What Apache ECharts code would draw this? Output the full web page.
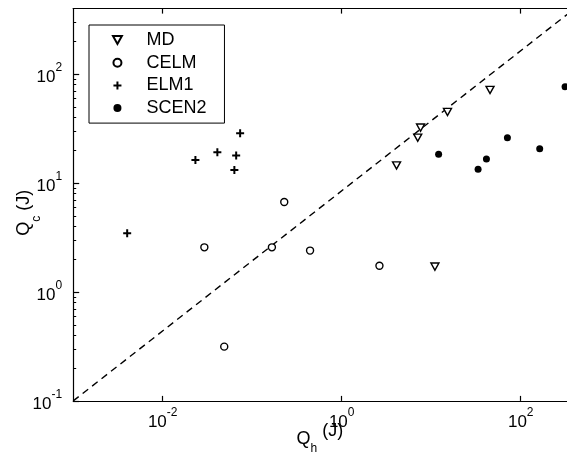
<!DOCTYPE html>
<html><head><meta charset="utf-8">
<script src="https://cdn.jsdelivr.net/npm/echarts@6/dist/echarts.min.js"></script>
<style>html,body{margin:0;padding:0;background:#fff}#c{width:567px;height:455px}</style>
</head><body><div id="c"></div>
<script>
// ---- data ----
const mdX = [4.1, 7.07, 7.6, 15.2, 45.4, 11.0];
const mdY = [14.5, 26.1, 32.3, 45, 71.6, 1.71];
const celmX = [0.0292, 0.0487, 0.166, 0.228, 0.443, 2.64];
const celmY = [2.57, 0.315, 2.57, 6.7, 2.40, 1.74];
const elm1X = [0.00401, 0.0232, 0.0408, 0.0632, 0.0662, 0.0733];
const elm1Y = [3.46, 16.3, 19.2, 13.2, 17.9, 28.7];
const scen2X = [12.1, 33.4, 41.4, 71, 163, 313];
const scen2Y = [18.4, 13.4, 16.6, 26.1, 20.7, 76.8];
const diagX = [0.001, 400];
const diagY = [0.1, 400];
const seriesNames = ['MD', 'CELM', 'ELM1', 'SCEN2'];
const xTickValues = [0.01, 1, 100];
const yTickValues = [0.1, 1, 10, 100];
const yMinorValues = [0.2, 0.3, 0.4, 0.5, 0.6, 0.7, 0.8, 0.9, 2, 3, 4, 5, 6, 7, 8, 9, 20, 30, 40, 50, 60, 70, 80, 90, 200, 300];

const FONT = '"Liberation Sans", Arial, Helvetica, sans-serif';
const pairs = (xs, ys) => xs.map((x, i) => [x, ys[i]]);
const powLabel = v => {
  const e = Math.round(Math.log10(v));
  return '{b|10}{s|' + (e < 0 ? '-' + (-e) : e) + '}';
};
const labelRich = {
  b: {fontSize: 17, fontFamily: FONT, color: '#000', lineHeight: 24, verticalAlign: 'bottom'},
  s: {fontSize: 12, fontFamily: FONT, color: '#000', lineHeight: 24, verticalAlign: 'top'}
};
const tickStyle = {color: '#000', width: 1.2};

const chart = echarts.init(document.getElementById('c'), null, {renderer: 'canvas'});
chart.setOption({
  animation: false,
  backgroundColor: '#fff',
  grid: {left: 73.2, right: -7.6, top: 8.6, bottom: 54.1, outerBoundsMode: 'none', containLabel: false},
  legend: {
    data: seriesNames,
    orient: 'vertical',
    left: 89, top: 25,
    padding: [6, 18, 6, 23],
    itemWidth: 48, itemHeight: 8, itemGap: 4.7,
    borderColor: '#000', borderWidth: 1,
    backgroundColor: '#fff',
    selectedMode: false,
    textStyle: {fontSize: 18, fontFamily: FONT, color: '#000'}
  },
  xAxis: [{
    type: 'log', logBase: 10, min: 0.001, max: 400, position: 'bottom',
    axisLine: {show: true, lineStyle: {color: '#000', width: 1.2}},
    axisTick: {show: true, inside: true, length: 5, customValues: xTickValues, lineStyle: tickStyle},
    splitLine: {show: false},
    axisLabel: {show: true, customValues: xTickValues, margin: 6, formatter: powLabel, rich: labelRich},
    name: '{q|Q}{h|h}{j| (J)}',
    nameLocation: 'middle', nameGap: 21, nameMoveOverlap: false,
    nameTextStyle: {
      padding: [0, 8, 0, 0],
      rich: {
        q: {fontSize: 18, fontFamily: FONT, color: '#000', verticalAlign: 'top', padding: [8, 0, 0, 0]},
        h: {fontSize: 12, fontFamily: FONT, color: '#000', verticalAlign: 'bottom', lineHeight: 33},
        j: {fontSize: 18, fontFamily: FONT, color: '#000', verticalAlign: 'top'}
      }
    }
  }, {
    type: 'log', logBase: 10, min: 0.001, max: 400, position: 'top',
    axisLine: {show: true, lineStyle: {color: '#000', width: 1.2}},
    axisTick: {show: true, inside: true, length: 5, customValues: xTickValues, lineStyle: tickStyle},
    axisLabel: {show: false},
    splitLine: {show: false}
  }],
  yAxis: [{
    type: 'log', logBase: 10, min: 0.1, max: 400, position: 'left',
    axisLine: {show: true, lineStyle: {color: '#000', width: 1.2}},
    axisTick: {show: true, inside: true, length: 6, customValues: yTickValues, lineStyle: tickStyle},
    splitLine: {show: false},
    axisLabel: {show: true, customValues: yTickValues, margin: 11, formatter: powLabel, rich: labelRich},
    name: '{q|Q}{c|c}{j| (J)}',
    nameLocation: 'middle', nameGap: 31, nameRotate: 90, nameMoveOverlap: false,
    nameTextStyle: {
      padding: [0, 16, 0, 0],
      rich: {
        q: {fontSize: 18, fontFamily: FONT, color: '#000', verticalAlign: 'top'},
        c: {fontSize: 12, fontFamily: FONT, color: '#000', verticalAlign: 'bottom', lineHeight: 27},
        j: {fontSize: 18, fontFamily: FONT, color: '#000', verticalAlign: 'top'}
      }
    }
  }, {
    type: 'log', logBase: 10, min: 0.1, max: 400, position: 'left',
    axisLine: {show: false},
    axisTick: {show: true, inside: true, length: 3, customValues: yMinorValues, lineStyle: {color: '#000', width: 1}},
    axisLabel: {show: false},
    splitLine: {show: false}
  }],
  series: [
    {
      name: 'diag', type: 'line', data: pairs(diagX, diagY), symbol: 'none', silent: true,
      lineStyle: {color: '#000', width: 1.4, type: [7, 5]}, z: 1
    },
    {
      name: 'MD', type: 'scatter', data: pairs(mdX, mdY),
      symbol: 'path://M0,0 L10,0 L5,9 Z', symbolSize: [8, 7.2],
      itemStyle: {color: '#fff', borderColor: '#000', borderWidth: 1.4, opacity: 1}
    },
    {
      name: 'CELM', type: 'scatter', data: pairs(celmX, celmY),
      symbol: 'circle', symbolSize: 7,
      itemStyle: {color: '#fff', borderColor: '#000', borderWidth: 1.4, opacity: 1}
    },
    {
      name: 'ELM1', type: 'scatter', data: pairs(elm1X, elm1Y),
      symbol: 'path://M5,0 L5,10 M0,5 L10,5', symbolSize: 8,
      itemStyle: {color: 'rgba(0,0,0,0)', borderColor: '#000', borderWidth: 2, opacity: 1}
    },
    {
      name: 'SCEN2', type: 'scatter', data: pairs(scen2X, scen2Y),
      symbol: 'circle', symbolSize: 7,
      itemStyle: {color: '#000', borderColor: '#000', borderWidth: 0, opacity: 1}
    }
  ]
});
</script>
</body></html>
